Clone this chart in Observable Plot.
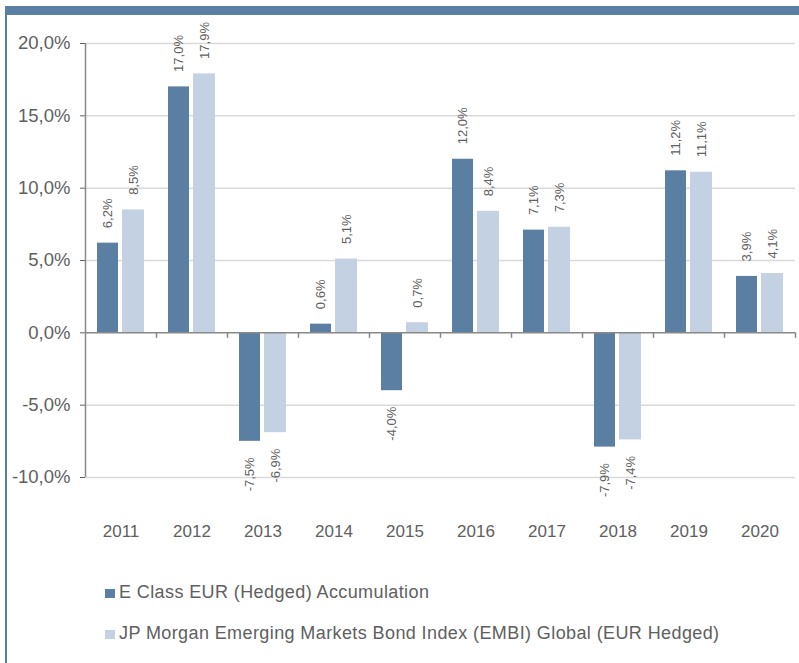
<!DOCTYPE html>
<html><head><meta charset="utf-8">
<script src="https://cdn.jsdelivr.net/npm/d3@7"></script>
<script src="https://cdn.jsdelivr.net/npm/@observablehq/plot@0.6"></script>
<style>
body{margin:0;background:#fff;font-family:"Liberation Sans",Arial,sans-serif;}
#wrap{position:relative;width:799px;height:663px;overflow:hidden;background:#fff;}
#frame{position:absolute;left:5px;top:6px;right:0;bottom:0;border-top:9px solid #5b7fa3;border-left:2px solid #5b7fa3;}
#chart{position:absolute;left:0;top:0;}
.leg{position:absolute;left:105px;font-size:18px;letter-spacing:0.4px;color:#606060;line-height:20px;white-space:nowrap;}
.leg span{display:inline-block;width:10px;height:9px;margin-right:4px;vertical-align:0px;}
</style></head>
<body>
<div id="wrap">
<div id="frame"></div>
<div id="chart"></div>
<div class="leg" style="top:582px"><span style="background:#5b7fa3"></span>E Class EUR (Hedged) Accumulation</div>
<div class="leg" style="top:623px"><span style="background:#c4d1e3"></span>JP Morgan Emerging Markets Bond Index (EMBI) Global (EUR Hedged)</div>
</div>
<script>
const years = ["2011","2012","2013","2014","2015","2016","2017","2018","2019","2020"];
const fund  = [6.2, 17.0, -7.5, 0.6, -4.0, 12.0, 7.1, -7.9, 11.2, 3.9];
const bench = [8.5, 17.9, -6.9, 5.1, 0.7, 8.4, 7.3, -7.4, 11.1, 4.1];
const yTicks = [-10, -5, 0, 5, 10, 15, 20];

const data = years.map((year, i) => ({year, fund: fund[i], bench: bench[i]}));
const fmt = d => d.toFixed(1).replace(".", ",") + "%";
const dark = "#5b7fa3", light = "#c4d1e3", textCol = "#606060";

function labels(key, dx) {
  return [
    Plot.text(data.filter(d => d[key] >= 0), {x: "year", y: key, text: d => fmt(d[key]), rotate: -90, textAnchor: "start", dx, dy: -15, fontSize: 13, fill: textCol}),
    Plot.text(data.filter(d => d[key] < 0), {x: "year", y: key, text: d => fmt(d[key]), rotate: -90, textAnchor: "end", dx, dy: 16, fontSize: 13, fill: textCol})
  ];
}

const chart = Plot.plot({
  width: 799,
  height: 545,
  marginLeft: 85,
  marginRight: 4,
  marginTop: 43,
  marginBottom: 68,
  style: {fontSize: "17px", color: textCol, fontFamily: "'Liberation Sans', Arial, sans-serif", background: "transparent"},
  x: {domain: years, padding: 0, axis: "bottom", tickSize: 0, tickPadding: 47, label: null},
  y: {domain: [-10, 20], ticks: yTicks, tickSize: 5, tickPadding: 10, tickFormat: fmt, label: null},
  marks: [
    Plot.ruleY(yTicks.filter(d => d !== 0), {stroke: "#d9d9d9", strokeWidth: 1.5}),
    Plot.barY(data, {x: "year", y: "fund", fill: dark, insetLeft: 12, insetRight: 38}),
    Plot.barY(data, {x: "year", y: "bench", fill: light, insetLeft: 37, insetRight: 12}),
    Plot.ruleY([0], {stroke: "#888", strokeWidth: 1.5}),
    Plot.ruleX([years[0]], {y1: -10, y2: 20, dx: -35.5, stroke: "#888", strokeWidth: 1.5}),
    Plot.ruleX(years, {y1: 0, y2: -0.38, dx: 35.5, stroke: "#888", strokeWidth: 1.5}),
    ...labels("fund", -13),
    ...labels("bench", 12.5)
  ]
});
chart.querySelectorAll("g[aria-label='y-axis tick label'] text, g[aria-label='y-axis'] text").forEach(t => t.style.fontSize = "18.5px");
document.getElementById("chart").appendChild(chart);
</script>
</body></html>
